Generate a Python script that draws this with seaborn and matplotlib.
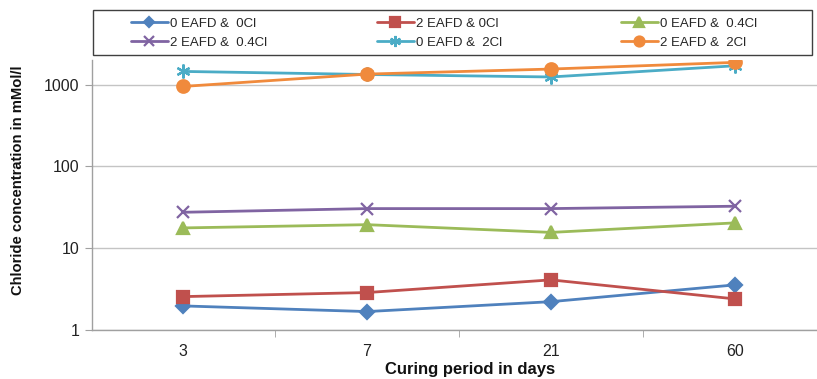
import matplotlib
matplotlib.use("Agg")
import matplotlib.pyplot as plt
from matplotlib.patches import Rectangle
from matplotlib.ticker import FixedLocator, FixedFormatter, NullLocator
import pandas as pd
import seaborn as sns

# curing period (days) on a categorical axis
days = ["3", "7", "21", "60"]

# chloride concentration, mMol/l
eafd0_cl0 = [1.97, 1.68, 2.22, 3.56]
eafd2_cl0 = [2.56, 2.87, 4.1, 2.4]
eafd0_cl04 = [17.7, 19.4, 15.6, 20.4]
eafd2_cl04 = [27.5, 30.5, 30.5, 32.6]
eafd0_cl2 = [1450, 1330, 1240, 1700]
eafd2_cl2 = [950, 1345, 1550, 1870]

series_labels = ["0 EAFD &  0Cl", "2 EAFD & 0Cl", "0 EAFD &  0.4Cl",
                 "2 EAFD &  0.4Cl", "0 EAFD &  2Cl", "2 EAFD &  2Cl"]
series_values = [eafd0_cl0, eafd2_cl0, eafd0_cl04, eafd2_cl04, eafd0_cl2, eafd2_cl2]

colors = ["#4F81BD", "#C0504D", "#9BBB59", "#8064A2", "#4BACC6", "#F08A3C"]
markers = ["D", "s", "^", "x", (6, 2, 0), "o"]
msizes = [7, 9, 9, 9, 10, 9]

sns.set_style("white")
plt.rcParams['font.family'] = ['Liberation Sans', 'DejaVu Sans']

fig = plt.figure(figsize=(8.17, 3.79), dpi=100)
ax = fig.add_axes([92 / 817, 49 / 379, 725 / 817, 270 / 379])

handles = []
for lab, vals, col, mk, ms in zip(series_labels, series_values, colors, markers, msizes):
    df = pd.DataFrame({"day": days, "value": vals})
    sns.lineplot(data=df, x="day", y="value", color=col, marker=mk, markersize=ms,
                 mec=col, mfc=col, mew=1.6, lw=2, sort=False, ax=ax, label=lab)
    handles.append(ax.get_lines()[-1])
if ax.get_legend() is not None:
    ax.get_legend().remove()

ax.set_yscale("log")
ax.set_ylim(1, 2000)
ax.yaxis.set_major_locator(FixedLocator([1, 10, 100, 1000]))
ax.yaxis.set_major_formatter(FixedFormatter(["1", "10", "100", "1000"]))
ax.yaxis.set_minor_locator(NullLocator())
ax.yaxis.grid(True, color="#C4C4C4", lw=1)
ax.xaxis.grid(False)

ax.set_xlim(-0.495, 3.446)
ax.xaxis.set_minor_locator(FixedLocator([-0.5, 0.5, 1.5, 2.5, 3.5]))
ax.tick_params(axis="x", which="major", length=0, pad=10, labelsize=11.5, colors="#222222")
ax.tick_params(axis="x", which="minor", length=5, direction="out", color="#A0A0A0", bottom=True)
ax.tick_params(axis="y", which="major", length=5, direction="out", color="#A0A0A0",
               labelsize=11.5, labelcolor="#222222", left=True, pad=4)

for s in ["top", "right"]:
    ax.spines[s].set_visible(False)
for s in ["left", "bottom"]:
    ax.spines[s].set_color("#A0A0A0")
    ax.spines[s].set_linewidth(1)

ax.set_xlabel("Curing period in days", fontsize=12, fontweight="bold", color="#111111")
ax.xaxis.set_label_coords(0.521, -0.12)
ax.set_ylabel("Chloride concentration in mMol/l", fontsize=10.6, fontweight="bold",
              color="#111111")
ax.yaxis.set_label_coords(-0.092, 0.556)

# legend frame plus three single-column legends
fig.patches.append(Rectangle((93 / 817, 1 - 55 / 379), 719 / 817, 45 / 379,
                             transform=fig.transFigure, facecolor="white",
                             edgecolor="#404040", lw=1))
col_x = [124, 370, 614]
for i, x in enumerate(col_x):
    fig.legend(handles=[handles[i], handles[i + 3]], labels=[series_labels[i], series_labels[i + 3]],
               loc="upper left", bbox_to_anchor=(x / 817, 1 - 11 / 379), frameon=False,
               borderpad=0, labelspacing=0.5, handlelength=2.8, handletextpad=0.15,
               fontsize=9.5, markerscale=0.8)

fig.savefig("out.png", dpi=100)
